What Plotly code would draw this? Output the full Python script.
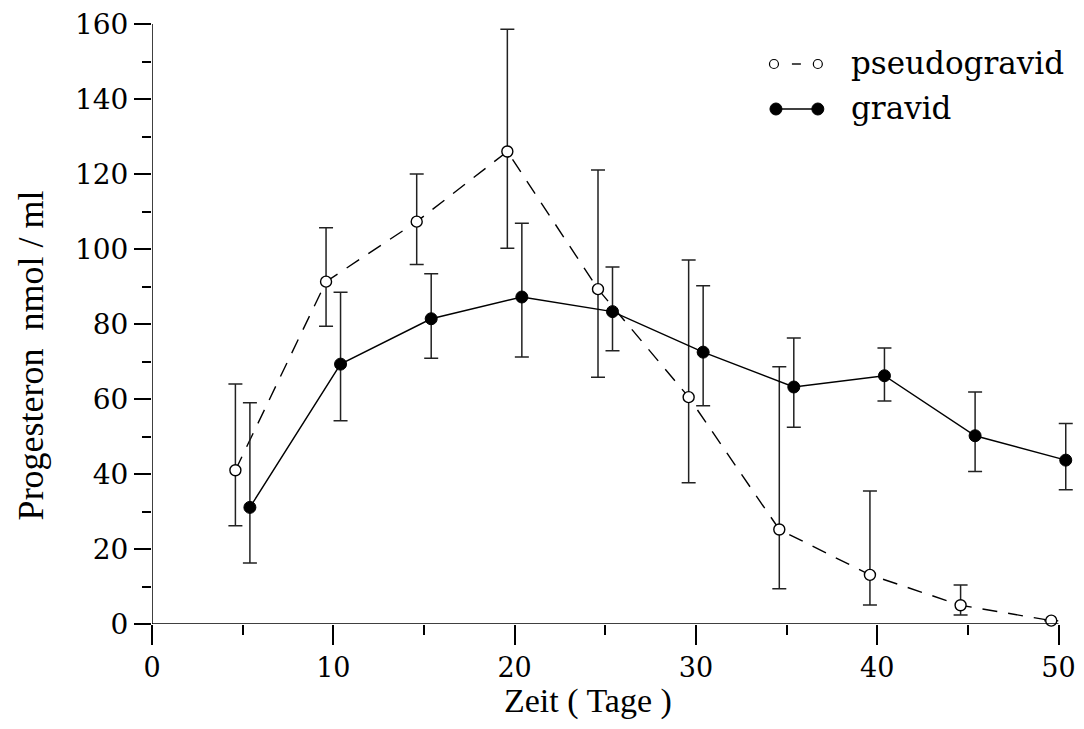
import plotly.graph_objects as go

# ---- data ----
pseudo_x = [4.6, 9.6, 14.6, 19.6, 24.6, 29.6, 34.6, 39.6, 44.6, 49.6]
pseudo_y = [41.0, 91.3, 107.3, 126.0, 89.3, 60.5, 25.2, 13.1, 5.0, 0.9]
pseudo_hi = [64.0, 105.7, 120.0, 158.6, 121.1, 97.1, 68.6, 35.5, 10.4, 0.9]
pseudo_lo = [26.2, 79.4, 95.9, 100.2, 65.8, 37.7, 9.4, 5.1, 2.4, 0.9]

gravid_x = [5.4, 10.4, 15.4, 20.4, 25.4, 30.4, 35.4, 40.4, 45.4, 50.4]
gravid_y = [31.1, 69.3, 81.4, 87.2, 83.3, 72.5, 63.2, 66.2, 50.2, 43.7]
gravid_hi = [59.0, 88.5, 93.4, 106.9, 95.2, 90.2, 76.3, 73.6, 61.9, 53.5]
gravid_lo = [16.3, 54.2, 70.9, 71.2, 72.9, 58.2, 52.5, 59.5, 40.7, 35.8]

x_ticks = [0, 10, 20, 30, 40, 50]
y_ticks = [0, 20, 40, 60, 80, 100, 120, 140, 160]

series_names = ["pseudogravid", "gravid"]
x_title = "Zeit ( Tage )"
y_title = "Progesteron  nmol / ml"

# ---- layout geometry ----
W, H = 1084, 729
ML, MR, MT, MB = 152, 8, 24, 105
PW = W - ML - MR
PH = H - MT - MB


def px_to_paper(px, py):
    return (px - ML) / PW, (H - MB - py) / PH


fig = go.Figure()

fig.add_trace(go.Scatter(
    x=pseudo_x, y=pseudo_y, mode="lines+markers", name=series_names[0],
    line=dict(color="black", width=1.4, dash="15px,11px"),
    marker=dict(symbol="circle", size=11, color="white",
                line=dict(color="black", width=1.4)),
    error_y=dict(type="data", symmetric=False,
                 array=[h - v for h, v in zip(pseudo_hi, pseudo_y)],
                 arrayminus=[v - l for l, v in zip(pseudo_lo, pseudo_y)],
                 color="#222222", thickness=1.5, width=7),
    cliponaxis=False, showlegend=False,
))

fig.add_trace(go.Scatter(
    x=gravid_x, y=gravid_y, mode="lines+markers", name=series_names[1],
    line=dict(color="black", width=1.4),
    marker=dict(symbol="circle", size=12, color="black",
                line=dict(color="black", width=1)),
    error_y=dict(type="data", symmetric=False,
                 array=[h - v for h, v in zip(gravid_hi, gravid_y)],
                 arrayminus=[v - l for l, v in zip(gravid_lo, gravid_y)],
                 color="#222222", thickness=1.5, width=7),
    cliponaxis=False, showlegend=False,
))

shapes = []
# axis lines (x axis ends at 50, y axis spans 0..160)
shapes.append(dict(type="line", xref="x", yref="y", x0=0, x1=50, y0=0, y1=0,
                   line=dict(color="black", width=1.5)))
shapes.append(dict(type="line", xref="x", yref="y", x0=0, x1=0, y0=0, y1=160,
                   line=dict(color="black", width=1.5)))

# manual legend glyphs
r1y, r2y = 64, 109
for cx in (776, 820):
    px_, py_ = px_to_paper(cx, r1y)
    shapes.append(dict(type="circle", xref="paper", yref="paper",
                       xsizemode="pixel", ysizemode="pixel",
                       xanchor=px_, yanchor=py_, x0=-4.5, x1=4.5, y0=-4.5, y1=4.5,
                       fillcolor="white", line=dict(color="black", width=1.2)))
a0 = px_to_paper(794, r1y)
a1 = px_to_paper(803, r1y)
shapes.append(dict(type="line", xref="paper", yref="paper",
                   x0=a0[0], x1=a1[0], y0=a0[1], y1=a1[1],
                   line=dict(color="black", width=1.4)))
b0 = px_to_paper(778, r2y)
b1 = px_to_paper(820, r2y)
shapes.append(dict(type="line", xref="paper", yref="paper",
                   x0=b0[0], x1=b1[0], y0=b0[1], y1=b1[1],
                   line=dict(color="black", width=1.4)))
for cx in (778, 820):
    px_, py_ = px_to_paper(cx, r2y)
    shapes.append(dict(type="circle", xref="paper", yref="paper",
                       xsizemode="pixel", ysizemode="pixel",
                       xanchor=px_, yanchor=py_, x0=-6, x1=6, y0=-6, y1=6,
                       fillcolor="black", line=dict(color="black", width=1)))

annotations = []
for name, ry in zip(series_names, (r1y - 1, r2y - 1)):
    tx, ty = px_to_paper(851, ry)
    annotations.append(dict(text=name, xref="paper", yref="paper", x=tx, y=ty,
                            xanchor="left", yanchor="middle", showarrow=False,
                            font=dict(family="DejaVu Serif", size=31, color="black")))

# axis titles placed as in the reference
xt = px_to_paper(589, 701)
annotations.append(dict(text=x_title, xref="paper", yref="paper", x=xt[0], y=xt[1],
                        xanchor="center", yanchor="middle", showarrow=False,
                        font=dict(family="Liberation Serif", size=34, color="black")))
yt = px_to_paper(31, 355)
annotations.append(dict(text=y_title, xref="paper", yref="paper", x=yt[0], y=yt[1],
                        xanchor="center", yanchor="middle", showarrow=False, textangle=-90,
                        font=dict(family="Liberation Serif", size=36, color="black")))

fig.update_layout(
    width=W, height=H,
    margin=dict(l=ML, r=MR, t=MT, b=MB),
    paper_bgcolor="white", plot_bgcolor="white",
    shapes=shapes, annotations=annotations,
    showlegend=False,
    xaxis=dict(range=[0, 50.8], tickvals=x_ticks, ticktext=[str(v) for v in x_ticks],
               showgrid=False, zeroline=False, showline=False,
               ticks="outside", ticklen=20, tickwidth=1.5, tickcolor="black",
               minor=dict(dtick=5, tick0=0, ticks="outside", ticklen=10,
                          tickwidth=1.5, tickcolor="black", showgrid=False),
               tickfont=dict(family="DejaVu Serif", size=27, color="black")),
    yaxis=dict(range=[0, 160], tickvals=y_ticks, ticktext=[str(v) for v in y_ticks],
               showgrid=False, zeroline=False, showline=False,
               ticks="outside", ticklen=17, tickwidth=1.5, tickcolor="black",
               minor=dict(dtick=10, tick0=0, ticks="outside", ticklen=9,
                          tickwidth=1.5, tickcolor="black", showgrid=False),
               tickfont=dict(family="DejaVu Serif", size=28, color="black")),
)

fig.write_html("out.html")
